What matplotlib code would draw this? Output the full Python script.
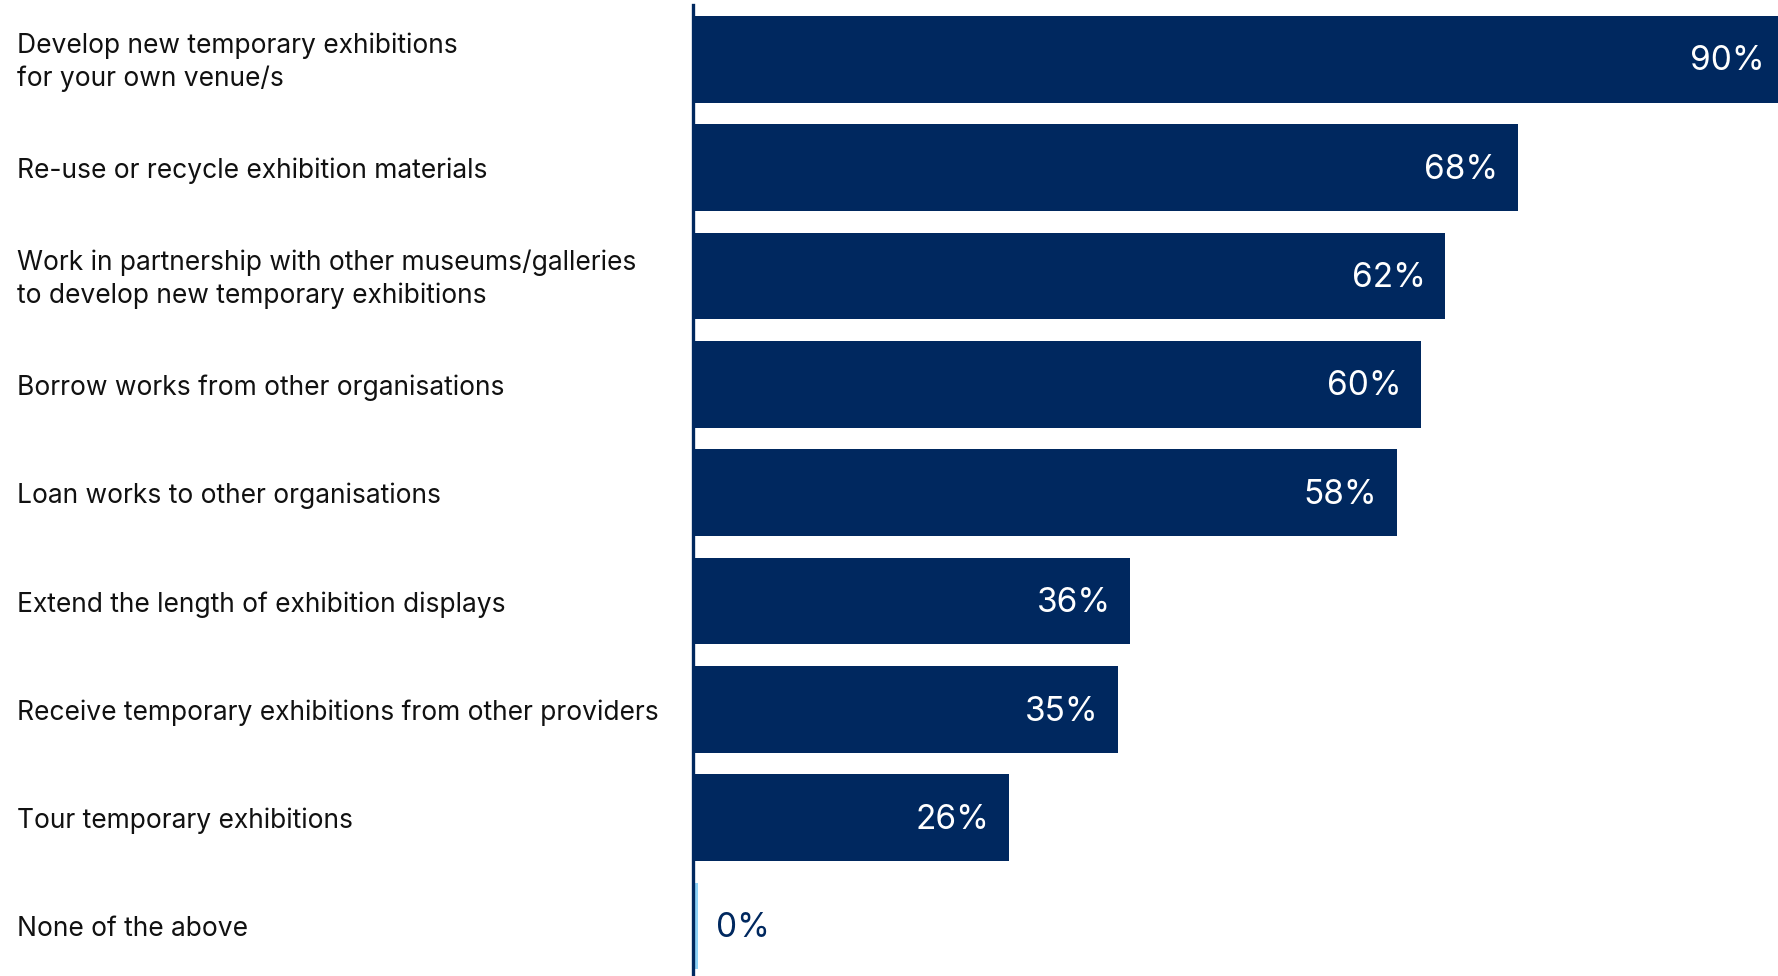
import matplotlib.pyplot as plt
from matplotlib.transforms import blended_transform_factory

categories = [
    "Develop new temporary exhibitions\nfor your own venue/s",
    "Re-use or recycle exhibition materials",
    "Work in partnership with other museums/galleries\nto develop new temporary exhibitions",
    "Borrow works from other organisations",
    "Loan works to other organisations",
    "Extend the length of exhibition displays",
    "Receive temporary exhibitions from other providers",
    "Tour temporary exhibitions",
    "None of the above",
]
values = [90, 68, 62, 60, 58, 36, 35, 26, 0]

NAVY = "#00285f"
LIGHT = "#8fd3f8"
TEXT = "#111111"
FONT = "Inter"


def main():
    fig = plt.figure(figsize=(17.78, 9.76), dpi=100)
    ax = fig.add_axes([693 / 1778, 0, 1 - 693 / 1778, 971 / 976])

    pos = list(range(len(values)))
    colors = [NAVY if v > 0 else LIGHT for v in values]
    widths = [v if v > 0 else 0.3 for v in values]
    ax.barh(pos, widths, height=0.8, color=colors, left=0.12)

    ax.set_xlim(0, 89.6)
    ax.set_ylim(8.46, -0.5)

    for side in ["top", "right", "bottom"]:
        ax.spines[side].set_visible(False)
    ax.spines["left"].set_color(NAVY)
    ax.spines["left"].set_linewidth(2.4)
    ax.set_xticks([])
    ax.set_yticks([])

    # category names sit at the left edge of the figure
    label_tr = blended_transform_factory(fig.transFigure, ax.transData)
    for y, name in zip(pos, categories):
        ax.text(17 / 1778, y + 0.03, name, transform=label_tr, ha="left",
                va="center", fontsize=19, color=TEXT, family=FONT,
                linespacing=1.32)

    for y, v in zip(pos, values):
        if v > 0:
            ax.text(v - 1.5, y + 0.02, f"{v}%", ha="right", va="center",
                    fontsize=24, color="white", family=FONT)
        else:
            ax.text(1.9, y + 0.02, f"{v}%", ha="left", va="center",
                    fontsize=24, color=NAVY, family=FONT)

    fig.savefig("out.png", dpi=100)


if __name__ == "__main__":
    main()
